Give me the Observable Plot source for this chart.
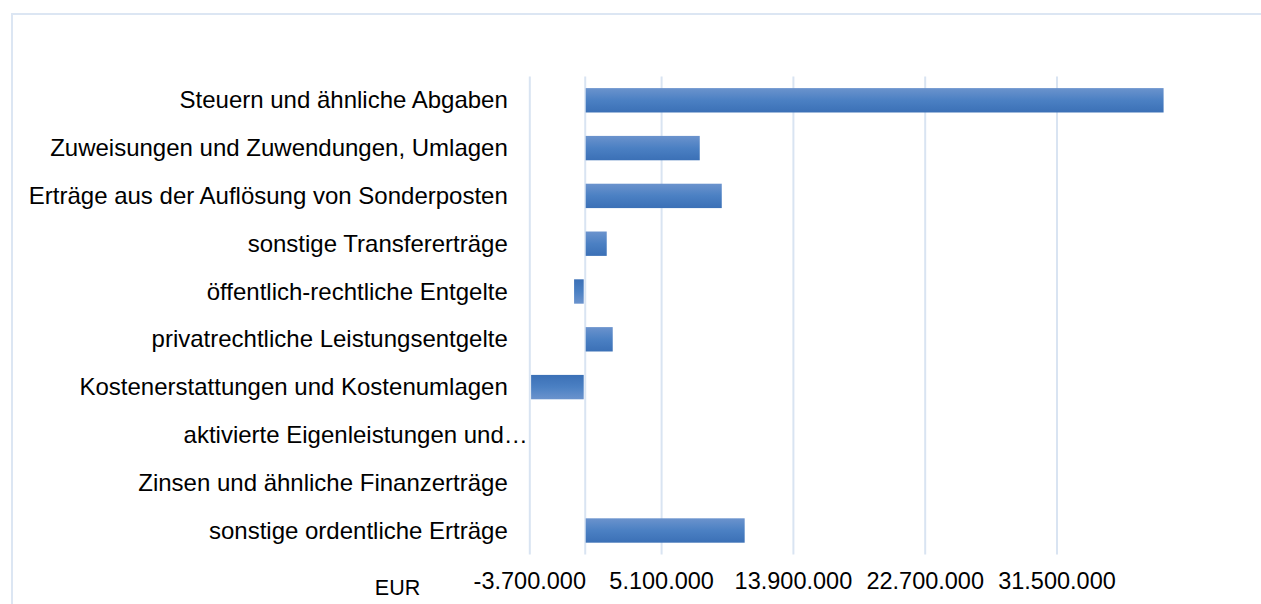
<!DOCTYPE html>
<html>
<head>
<meta charset="utf-8">
<script src="https://cdn.jsdelivr.net/npm/d3@7"></script>
<script src="https://cdn.jsdelivr.net/npm/@observablehq/plot@0.6"></script>
<style>
  html, body { margin: 0; padding: 0; background: #fff; overflow: hidden; }
  #wrap { position: relative; width: 1261px; height: 604px; }
  #border { position: absolute; left: 11px; top: 13px; width: 1300px; height: 700px;
            border: 2px solid #dce6f3; box-sizing: border-box; }
  #chart { position: absolute; left: 0; top: 0; }
</style>
</head>
<body>
<div id="wrap"><div id="border"></div><div id="chart"></div></div>
<script>
const categories = [
  "Steuern und ähnliche Abgaben",
  "Zuweisungen und Zuwendungen, Umlagen",
  "Erträge aus der Auflösung von Sonderposten",
  "sonstige Transfererträge",
  "öffentlich-rechtliche Entgelte",
  "privatrechtliche Leistungsentgelte",
  "Kostenerstattungen und Kostenumlagen",
  "aktivierte Eigenleistungen und…",
  "Zinsen und ähnliche Finanzerträge",
  "sonstige ordentliche Erträge"
];
const values = [38650000, 7680000, 9150000, 1470000, -710000, 1870000, -3580000, 0, 50000, 10680000];
const xTicks = [-3700000, 5100000, 13900000, 22700000, 31500000];
const xDomain = [-3700000, 40300000];
const axisTitle = "EUR";

const data = categories.map((c, i) => ({category: c, value: values[i]}));
const truncated = categories.filter(c => c.endsWith("…"));
const normal = categories.filter(c => !c.endsWith("…"));

const de = d3.formatLocale({decimal: ",", thousands: ".", grouping: [3], currency: ["", " €"], minus: "-"});
const fmt = de.format(",d");

const defs = () => {
  const g = d3.create("svg:defs");
  const pos = g.append("linearGradient").attr("id", "gradPos").attr("x1", 0).attr("y1", 0).attr("x2", 0).attr("y2", 1);
  pos.append("stop").attr("offset", "0%").attr("stop-color", "#6b93cd");
  pos.append("stop").attr("offset", "50%").attr("stop-color", "#4b80c3");
  pos.append("stop").attr("offset", "100%").attr("stop-color", "#3b70b6");
  const neg = g.append("linearGradient").attr("id", "gradNeg").attr("x1", 0).attr("y1", 0).attr("x2", 0).attr("y2", 1);
  neg.append("stop").attr("offset", "0%").attr("stop-color", "#3b70b6");
  neg.append("stop").attr("offset", "50%").attr("stop-color", "#4b80c3");
  neg.append("stop").attr("offset", "100%").attr("stop-color", "#6b93cd");
  return g.node();
};

const gridColor = "#d9e4f2";
const font = "'Liberation Sans', Arial, sans-serif";

const chart = Plot.plot({
  width: 1261,
  height: 604,
  marginLeft: 529.3,
  marginRight: 72.7,
  marginTop: 76.4,
  marginBottom: 49.6,
  style: {fontFamily: font, fontSize: "23px", color: "#000", background: "transparent"},
  x: {domain: xDomain, axis: null},
  y: {domain: categories, paddingInner: 0.49, paddingOuter: 0.245, round: false, axis: null},
  marks: [
    defs,
    Plot.ruleX(xTicks, {stroke: gridColor, strokeWidth: 2}),
    Plot.ruleX([0], {stroke: gridColor, strokeWidth: 2}),
    Plot.barX(data.filter(d => d.value >= 0), {x: "value", y: "category", fill: "url(#gradPos)", insetLeft: 1}),
    Plot.barX(data.filter(d => d.value < 0), {x: "value", y: "category", fill: "url(#gradNeg)", insetRight: 1}),
    Plot.axisY({ticks: normal, tickSize: 0, tickPadding: 22, fontSize: 24, fill: "#000", label: null}),
    Plot.axisY({ticks: truncated, tickSize: 0, tickPadding: 2, fontSize: 24, fill: "#000", label: null}),
    Plot.axisX({ticks: xTicks, tickFormat: fmt, tickSize: 0, tickPadding: 17.5, fontSize: 23.5, fill: "#000", label: null}),
    Plot.text([axisTitle], {frameAnchor: "bottom-left", text: d => d, dx: -155, dy: 33, textAnchor: "start", lineAnchor: "middle", fontSize: 21.5, fill: "#000"})
  ]
});
document.getElementById("chart").appendChild(chart);
</script>
</body>
</html>
